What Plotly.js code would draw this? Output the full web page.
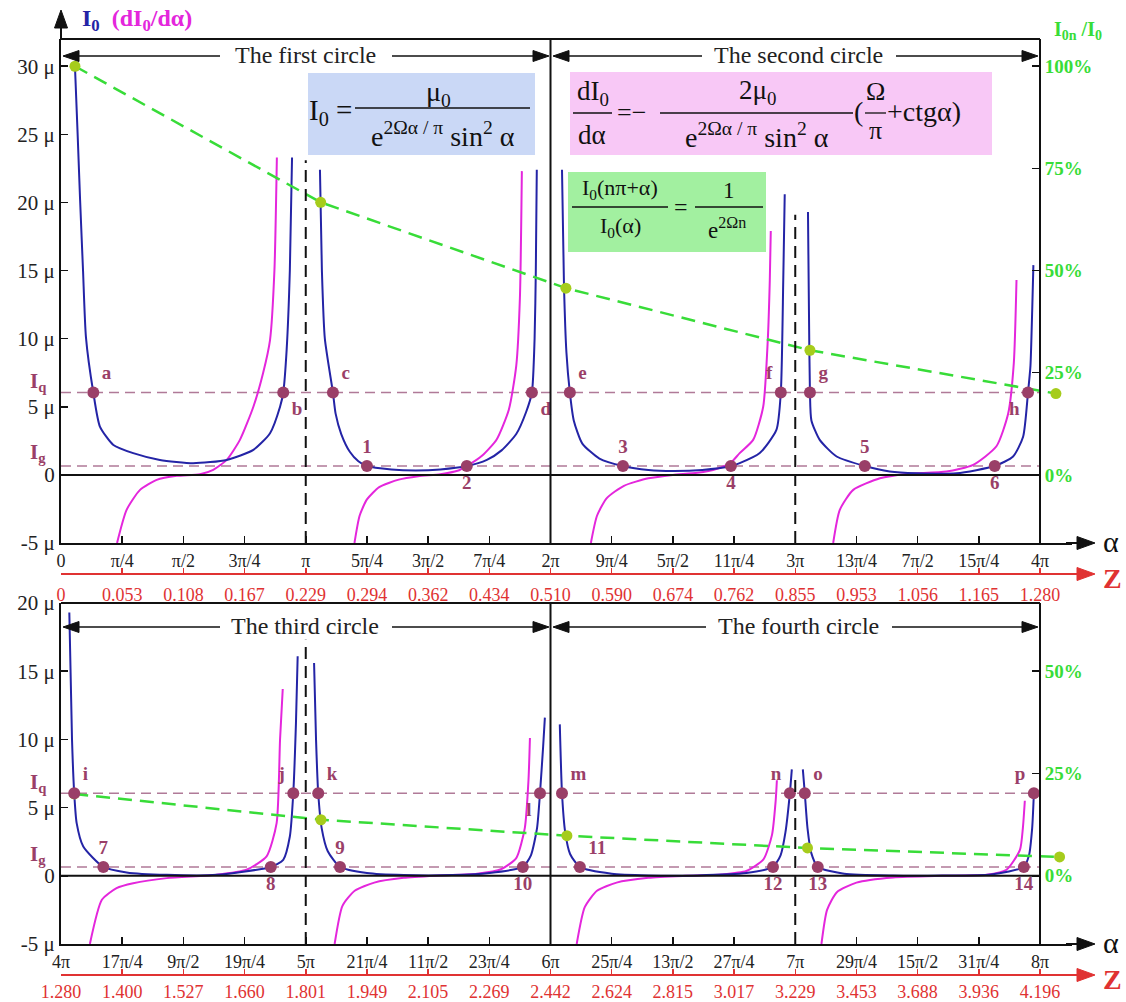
<!DOCTYPE html>
<html><head><meta charset="utf-8">
<script src="https://cdn.plot.ly/plotly-3.0.1.min.js"></script>
<style>html,body{margin:0;padding:0;background:#fff}</style>
</head><body><div id="chart" style="width:1126px;height:1002px"></div>
<script>
// ---------------- DATA (α in units of π, current in μ) ----------------
const xTickValsTop = [0,0.25,0.5,0.75,1,1.25,1.5,1.75,2,2.25,2.5,2.75,3,3.25,3.5,3.75,4];
const xTickTextTop = ['0','π/4','π/2','3π/4','π','5π/4','3π/2','7π/4','2π','9π/4','5π/2','11π/4','3π','13π/4','7π/2','15π/4','4π'];
const zTickTextTop = ['0','0.053','0.108','0.167','0.229','0.294','0.362','0.434','0.510','0.590','0.674','0.762','0.855','0.953','1.056','1.165','1.280'];
const xTickValsBot = [4,4.25,4.5,4.75,5,5.25,5.5,5.75,6,6.25,6.5,6.75,7,7.25,7.5,7.75,8];
const xTickTextBot = ['4π','17π/4','9π/2','19π/4','5π','21π/4','11π/2','23π/4','6π','25π/4','13π/2','27π/4','7π','29π/4','15π/2','31π/4','8π'];
const zTickTextBot = ['1.280','1.400','1.527','1.660','1.801','1.949','2.105','2.269','2.442','2.624','2.815','3.017','3.229','3.453','3.688','3.936','4.196'];
const yTickValsTop = [-5,0,5,10,15,20,25,30];
const yTickTextTop = ['-5 μ','0','5 μ','10 μ','15 μ','20 μ','25 μ','30 μ'];
const yTickValsBot = [-5,0,5,10,15,20];
const yTickTextBot = ['-5 μ','0','5 μ','10 μ','15 μ','20 μ'];
const pctTicksTop = [0,25,50,75,100];
const pctTicksBot = [0,25,50];

const Iq = 6.05, Ig = 0.65;
const spanTop = [0,4], spanBot = [4,8];

// I0 (blue) branches
const blue1 = [[0.057,30],[0.068,25],[0.078,20.2],[0.09,15],[0.102,10.1],[0.132,6.05],[0.159,3.55],[0.214,2.2],[0.295,1.6],[0.404,1.1],[0.54,0.86],[0.677,1.1],[0.786,1.84],[0.854,3.06],[0.895,5.0],[0.908,6.05],[0.922,9.2],[0.935,15],[0.944,23.3]];
const blue2 = [[1.058,22.4],[1.066,15],[1.078,10],[1.111,6.05],[1.122,4.5],[1.145,3.0],[1.18,1.7],[1.215,1.0],[1.25,0.65],[1.35,0.4],[1.45,0.33],[1.55,0.4],[1.658,0.65],[1.74,1.1],[1.8,1.8],[1.86,3.0],[1.9,4.6],[1.924,6.05],[1.935,10],[1.94,15],[1.944,22.4]];
const blue3 = [[2.047,22.4],[2.055,14],[2.065,9],[2.079,6.05],[2.095,4.0],[2.13,2.3],[2.2,1.2],[2.296,0.65],[2.4,0.36],[2.5,0.28],[2.62,0.36],[2.737,0.65],[2.773,0.86],[2.855,1.6],[2.923,3.3],[2.941,6.05],[2.951,14.3],[2.957,20.6]];
const blue4 = [[3.052,19.3],[3.056,12],[3.06,6.05],[3.066,4.0],[3.1,2.57],[3.169,1.35],[3.284,0.65],[3.386,0.25],[3.495,0.12],[3.659,0.12],[3.815,0.65],[3.89,1.35],[3.931,2.8],[3.951,6.05],[3.961,8.0],[3.968,12],[3.973,15.4]];
const blue5 = [[4.034,19.3],[4.045,10],[4.054,6.05],[4.064,3.86],[4.091,2.15],[4.173,0.65],[4.268,0.25],[4.432,0.07],[4.636,0.07],[4.857,0.65],[4.908,1.17],[4.935,2.88],[4.949,6.05],[4.96,11.2],[4.967,16.1]];
const blue6 = [[5.034,15.6],[5.042,10],[5.051,6.05],[5.065,3.5],[5.09,1.8],[5.14,0.65],[5.25,0.2],[5.4,0.05],[5.6,0.05],[5.75,0.2],[5.887,0.65],[5.92,1.5],[5.945,3.5],[5.957,6.05],[5.97,9.5],[5.977,11.6]];
const blue7 = [[6.038,11.1],[6.047,6.05],[6.06,3.2],[6.08,1.6],[6.12,0.65],[6.25,0.15],[6.4,0.03],[6.6,0.03],[6.8,0.2],[6.909,0.65],[6.94,1.5],[6.96,3.2],[6.978,6.05],[6.986,7.8]];
const blue8 = [[7.031,7.8],[7.039,6.05],[7.05,3.5],[7.065,1.7],[7.092,0.65],[7.2,0.15],[7.4,0.02],[7.6,0.02],[7.8,0.1],[7.934,0.65],[7.955,1.5],[7.968,3.5],[7.975,6.05]];

// dI0/dα (magenta) branches
const mag1 = [[0.229,-5],[0.268,-2.57],[0.323,-1.1],[0.391,-0.37],[0.473,-0.07],[0.568,0.05],[0.622,0.37],[0.677,1.1],[0.731,2.57],[0.786,5.0],[0.826,7.5],[0.854,9.9],[0.872,15],[0.882,23.3]];
const mag2 = [[1.199,-5],[1.22,-3],[1.25,-1.8],[1.3,-0.9],[1.38,-0.35],[1.46,-0.1],[1.55,0.05],[1.62,0.3],[1.658,0.65],[1.72,1.4],[1.78,2.6],[1.83,4.8],[1.86,8],[1.875,13],[1.883,22.3]];
const mag3 = [[2.165,-5],[2.19,-3],[2.23,-1.7],[2.3,-0.8],[2.4,-0.25],[2.5,0],[2.6,0.15],[2.68,0.45],[2.737,0.9],[2.773,1.6],[2.828,2.57],[2.869,5.0],[2.888,10],[2.896,14.3],[2.9,17.9]];
const mag4 = [[3.155,-5],[3.182,-2.57],[3.237,-1.1],[3.346,-0.25],[3.455,0.07],[3.618,0.25],[3.727,0.74],[3.822,2.1],[3.87,4.5],[3.893,8.2],[3.904,14.3]];
const mag5 = [[4.118,-5],[4.167,-1.76],[4.227,-0.9],[4.295,-0.54],[4.432,-0.17],[4.636,0.07],[4.758,0.44],[4.84,1.42],[4.881,3.86],[4.895,10.0],[4.906,13.7]];
const mag6 = [[5.118,-5],[5.15,-2.2],[5.2,-1.1],[5.28,-0.5],[5.4,-0.15],[5.55,0.02],[5.7,0.15],[5.8,0.5],[5.86,1.3],[5.895,3.5],[5.91,7],[5.916,10.1]];
const mag7 = [[6.107,-5],[6.14,-2.3],[6.19,-1.1],[6.27,-0.5],[6.4,-0.15],[6.55,0],[6.7,0.1],[6.8,0.35],[6.87,1.2],[6.905,3],[6.92,5.5],[6.925,7.0]];
const mag8 = [[7.107,-5],[7.13,-2.5],[7.17,-1.2],[7.25,-0.5],[7.4,-0.12],[7.6,0],[7.782,0.07],[7.863,0.44],[7.918,1.9],[7.93,3.5],[7.938,5.5]];

// I0n/I0 ratio (%)
const ratioTopX = [0.057,1.061,2.063,3.06,4.065];
const ratioTopPct = [100,66.7,45.7,30.5,19.9];
const ratioBotX = [4.054,5.062,6.067,7.05,8.08];
const ratioBotPct = [20.0,13.7,9.8,6.8,4.6];

// labelled points
const ptTopLabel = ['a','b','c','d','e','f','g','h','1','2','3','4','5','6'];
const ptTopX = [0.132,0.908,1.111,1.924,2.079,2.941,3.06,3.951,1.25,1.658,2.296,2.737,3.284,3.815];
const ptTopY = [6.05,6.05,6.05,6.05,6.05,6.05,6.05,6.05,0.65,0.65,0.65,0.65,0.65,0.65];
const ptTopPos = ['top right','bottom right','top right','bottom right','top right','top left','top right','bottom left','top center','bottom center','top center','bottom center','top center','bottom center'];
const ptBotLabel = ['i','j','k','l','m','n','o','p','7','8','9','10','11','12','13','14'];
const ptBotX = [4.054,4.949,5.051,5.957,6.047,6.978,7.039,7.975,4.173,4.857,5.14,5.887,6.12,6.909,7.092,7.934];
const ptBotY = [6.05,6.05,6.05,6.05,6.05,6.05,6.05,6.05,0.65,0.65,0.65,0.65,0.65,0.65,0.65,0.65];
const ptBotPos = ['top right','top left','top right','bottom left','top right','top left','top right','top left','top center','bottom center','top center','bottom center','top right','bottom center','bottom center','bottom center'];

// ---------------- BUILD ----------------
function join(branches){
  const x=[], y=[];
  branches.forEach((b,i)=>{ if(i){x.push(null);y.push(null);} b.forEach(p=>{x.push(p[0]);y.push(p[1]);}); });
  return {x,y};
}
const BLUE='#2424a6', MAG='#e426dc', PUR='#9a3f68', PURL='#b07a98', GRN='#38dc38', GDOT='#a6cc1c', RED='#e03232';
const SERIF='Liberation Serif, Times New Roman, serif';

const bT = join([blue1,blue2,blue3,blue4]), mT = join([mag1,mag2,mag3,mag4]);
const bB = join([blue5,blue6,blue7,blue8]), mB = join([mag5,mag6,mag7,mag8]);
const lineStyle = c => ({color:c, width:2, shape:'spline', smoothing:0.6});

const traces = [
  {x:spanTop, y:[Iq,Iq], xaxis:'x', yaxis:'y', mode:'lines', line:{color:PURL,width:1.6,dash:'10px,6px'}},
  {x:spanTop, y:[Ig,Ig], xaxis:'x', yaxis:'y', mode:'lines', line:{color:PURL,width:1.6,dash:'10px,6px'}},
  {x:mT.x, y:mT.y, xaxis:'x', yaxis:'y', mode:'lines', line:lineStyle(MAG), connectgaps:false},
  {x:bT.x, y:bT.y, xaxis:'x', yaxis:'y', mode:'lines', line:lineStyle(BLUE), connectgaps:false},
  {x:ratioTopX, y:ratioTopPct, xaxis:'x', yaxis:'y2', mode:'lines+markers', cliponaxis:false,
   line:{color:GRN,width:2.5,dash:'14px,8px'}, marker:{color:GDOT,size:11}},
  {x:ptTopX, y:ptTopY, xaxis:'x3', yaxis:'y', mode:'markers+text', text:ptTopLabel, textposition:ptTopPos, cliponaxis:false,
   marker:{color:PUR,size:12}, textfont:{family:SERIF,size:19,color:PUR,weight:'bold'}},

  {x:spanBot, y:[Iq,Iq], xaxis:'x2', yaxis:'y3', mode:'lines', line:{color:PURL,width:1.6,dash:'10px,6px'}},
  {x:spanBot, y:[Ig,Ig], xaxis:'x2', yaxis:'y3', mode:'lines', line:{color:PURL,width:1.6,dash:'10px,6px'}},
  {x:mB.x, y:mB.y, xaxis:'x2', yaxis:'y3', mode:'lines', line:lineStyle(MAG), connectgaps:false},
  {x:bB.x, y:bB.y, xaxis:'x2', yaxis:'y3', mode:'lines', line:lineStyle(BLUE), connectgaps:false},
  {x:ratioBotX, y:ratioBotPct, xaxis:'x2', yaxis:'y4', mode:'lines+markers', cliponaxis:false,
   line:{color:GRN,width:2.5,dash:'14px,8px'}, marker:{color:GDOT,size:11}},
  {x:ptBotX, y:ptBotY, xaxis:'x4', yaxis:'y3', mode:'markers+text', text:ptBotLabel, textposition:ptBotPos, cliponaxis:false,
   marker:{color:PUR,size:12}, textfont:{family:SERIF,size:19,color:PUR,weight:'bold'}}
];

// ---------------- LAYOUT ----------------
const ML=61, MR=54, MT=39, MB=12, W=1126, H=1002;
const PW=W-ML-MR, PH=H-MT-MB;
const PX = px => (px-ML)/PW;
const PY = py => (H-MB-py)/PH;
const pxPerPi = (1040-ML)/4;
const xSpan = PW/pxPerPi;
const domTop = [PY(543),1], domBot = [PY(944),PY(603)];
const rightPos = PX(1040);

const xBase = (vals,text,rng,anchor) => ({range:rng, tickvals:vals, ticktext:text, ticks:'inside', ticklen:7, tickwidth:1.5,
  tickcolor:'#111', showline:true, linecolor:'#111', linewidth:2, showgrid:false, zeroline:false,
  tickfont:{family:SERIF,size:18,color:'#222'}, anchor:anchor, domain:[0,1]});
const yBase = (vals,text,rng,dom,anchor) => ({range:rng, tickvals:vals, ticktext:text, ticks:'inside', ticklen:7, tickwidth:1.5,
  tickcolor:'#111', showline:true, linecolor:'#111', linewidth:2, showgrid:false, zeroline:false,
  tickfont:{family:SERIF,size:21,color:'#222'}, anchor:anchor, domain:dom});
const pctAxis = (vals,rng,over) => ({overlaying:over, side:'right', anchor:'free', position:rightPos, range:rng,
  tickvals:vals, ticktext:vals.map(v=>v+'%'), ticks:'inside', ticklen:7, tickwidth:1.5, tickcolor:'#111',
  showline:true, linecolor:'#111', linewidth:2, showgrid:false, zeroline:false,
  tickfont:{family:SERIF,size:19,color:GRN,weight:'bold'}});
const zAxis = (vals,text,rng,over,pos,stand) => ({overlaying:over, anchor:'free', position:pos, side:'bottom', range:rng,
  tickvals:vals, ticktext:text, ticks:'inside', ticklen:5, tickwidth:1.5, tickcolor:RED, showline:true,
  linecolor:RED, linewidth:2, showgrid:false, zeroline:false, ticklabelstandoff:stand,
  tickfont:{family:SERIF,size:18,color:RED}});

const shapes = [];
const ln = (x0,y0,x1,y1,xr,yr,c,w,d) => shapes.push({type:'line',xref:xr,yref:yr,x0,y0,x1,y1,line:{color:c,width:w,dash:d||'solid'},layer:'above'});
const rect = (px0,py0,px1,py1,fill) => shapes.push({type:'rect',xref:'paper',yref:'paper',x0:PX(px0),x1:PX(px1),y0:PY(py1),y1:PY(py0),fillcolor:fill,line:{width:0},layer:'below'});
// arrow = line + filled triangle head (pixel geometry converted to paper)
const arrow = (tipx,tipy,tailx,taily,color,w,hl,hw) => {
  const L = Math.hypot(tipx-tailx, tipy-taily), ux=(tipx-tailx)/L, uy=(tipy-taily)/L;
  const bx = tipx-ux*hl, by = tipy-uy*hl, nx=-uy, ny=ux;
  ln(PX(tailx),PY(taily),PX(bx+ux*1),PY(by+uy*1),'paper','paper',color,w);
  const p = [[tipx,tipy],[bx+nx*hw/2,by+ny*hw/2],[bx-nx*hw/2,by-ny*hw/2]];
  shapes.push({type:'path', xref:'paper', yref:'paper', layer:'above',
    path:'M'+p.map(q=>PX(q[0])+','+PY(q[1])).join(' L')+' Z', fillcolor:color, line:{color:color,width:1}});
};

// panel frames
ln(0,1,rightPos,1,'paper','paper','#111',2);
ln(0,domBot[1],rightPos,domBot[1],'paper','paper','#111',2);
ln(spanTop[0],0,spanTop[1],0,'x','y','#111',2);
ln(spanBot[0],0,spanBot[1],0,'x2','y3','#111',2);
// half-cycle separators
ln(1,-5,1,23.1,'x','y','#111',2,'12px,7px');
ln(3,-5,3,19.1,'x','y','#111',2,'12px,7px');
ln(2,-5,2,32,'x','y','#111',2);
ln(5,-5,5,17.3,'x2','y3','#111',2,'12px,7px');
ln(7,-5,7,7.2,'x2','y3','#111',2,'12px,7px');
ln(6,-5,6,20,'x2','y3','#111',2);
// formula boxes
rect(308,73,535,155,'#cad8f6');
rect(570,72,992,155,'#f8c8f6');
rect(568,172,766,252,'#a2f0a0');
// fraction bars
const bar = (px0,px1,py) => ln(PX(px0),PY(py),PX(px1),PY(py),'paper','paper','#111',1.3);
bar(355,530,108);
bar(573,612,113); bar(660,853,113); bar(865,886,113);
bar(572,668,207); bar(695,763,207);

// axis arrows
arrow(61,10,61,40,'#111',2,18,13);
arrow(1095,543,1066,543,'#111',2,18,13);
arrow(1095,574,1066,574,RED,2,18,13);
arrow(1095,944,1066,944,'#111',2,18,13);
arrow(1095,975,1066,975,RED,2,18,13);

const annotations = [];
const T = (text,px,py,size,opt) => annotations.push(Object.assign({text, x:PX(px), y:PY(py), xref:'paper', yref:'paper',
  showarrow:false, xanchor:'center', yanchor:'middle', font:{family:SERIF,size:size,color:'#111'}}, opt||{}));

T('α',1111,541,30);
T('<b>Z</b>',1112,578,28,{font:{family:SERIF,size:28,color:RED}});
T('α',1111,942,30);
T('<b>Z</b>',1112,979,28,{font:{family:SERIF,size:28,color:RED}});

// circle headers
const circ = (label,cx,py,leftTip,leftTail,rightTail,rightTip) => {
  T(label,cx,py-1,24,{font:{family:SERIF,size:24,color:'#222'}});
  arrow(leftTip,py,leftTail,py,'#111',1.5,16,11);
  arrow(rightTip,py,rightTail,py,'#111',1.5,16,11);
};
circ('The first circle',305,56,63,220,392,549);
circ('The second circle',798,56,553,702,896,1038);
circ('The third circle',305,627,63,220,392,549);
circ('The fourth circle',798,627,553,706,892,1038);

// axis titles
T('<b><span style="color:'+BLUE+'">I<sub>0</sub></span>  <span style="color:'+MAG+'">(dI<sub>0</sub>/dα)</span></b>',80,20,24,{xanchor:'left'});
T('<b>I<sub>0n</sub> /I<sub>0</sub></b>',1078,30,20,{font:{family:SERIF,size:20,color:GRN}});
T('<b>I<sub>q</sub></b>',38,382,21,{font:{family:SERIF,size:21,color:PUR}});
T('<b>I<sub>g</sub></b>',38,453,21,{font:{family:SERIF,size:21,color:PUR}});
T('<b>I<sub>q</sub></b>',38,783,21,{font:{family:SERIF,size:21,color:PUR}});
T('<b>I<sub>g</sub></b>',38,855,21,{font:{family:SERIF,size:21,color:PUR}});

// formulas
T('I<sub>0</sub> =',330,112,29);
T('μ<sub>0</sub>',438,94,28);
T('e<sup>2Ωα / π</sup> sin<sup>2</sup> α',443,134,28);
T('dI<sub>0</sub>',593,93,27);
T('dα',592,135,27);
T('=−',631,113,26);
T('2μ<sub>0</sub>',757,92,27);
T('e<sup>2Ωα / π</sup> sin<sup>2</sup> α',757,135,28);
T('(',858,112,28);
T('Ω',875,92,26);
T('π',875,131,26);
T('+ctgα)',885,112,28,{xanchor:'left'});
T('I<sub>0</sub>(nπ+α)',620,189,22);
T('I<sub>0</sub>(α)',620,227,22);
T('=',681,207,24);
T('1',729,190,23);
T('e<sup>2Ωn</sup>',727,229,23);

const layout = {
  width:W, height:H, margin:{l:ML,r:MR,t:MT,b:MB}, showlegend:false,
  paper_bgcolor:'#ffffff', plot_bgcolor:'rgba(0,0,0,0)',
  font:{family:SERIF,size:18,color:'#222'},
  xaxis: xBase(xTickValsTop,xTickTextTop,[0,xSpan],'y'),
  yaxis: yBase(yTickValsTop,yTickTextTop,[-5,32],domTop,'x'),
  yaxis2: pctAxis(pctTicksTop,[-5/0.3,32/0.3],'y'),
  xaxis3: zAxis(xTickValsTop,zTickTextTop,[0,xSpan],'x',PY(574),4),
  xaxis2: xBase(xTickValsBot,xTickTextBot,[4,4+xSpan],'y3'),
  yaxis3: yBase(yTickValsBot,yTickTextBot,[-5,20],domBot,'x2'),
  yaxis4: pctAxis(pctTicksBot,[-5/0.3,20/0.3],'y3'),
  xaxis4: zAxis(xTickValsBot,zTickTextBot,[4,4+xSpan],'x2',PY(975),0),
  shapes, annotations
};
Plotly.newPlot('chart', traces, layout, {staticPlot:true, displayModeBar:false});
</script></body></html>
